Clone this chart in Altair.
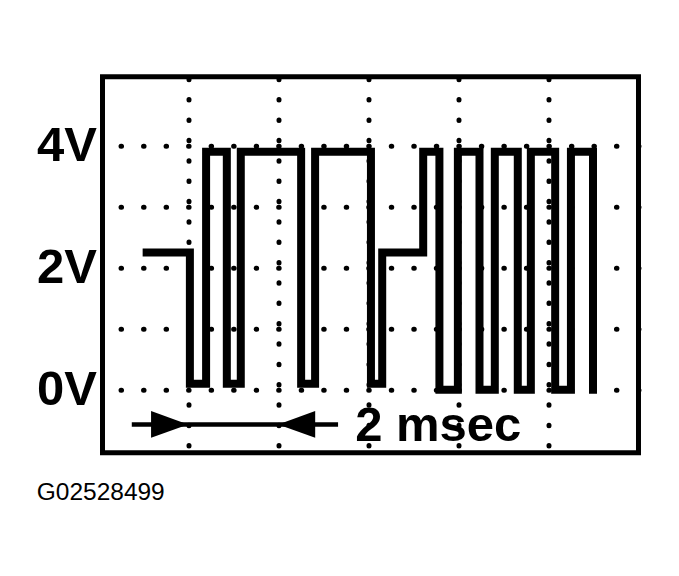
import altair as alt
import pandas as pd

# ---- waveform (time in msec, level in volts) ----
start_t = 1.08
start_level = 2.25
edge_t = [2.04, 2.40, 2.86, 3.17, 4.51, 4.82, 6.06, 6.31,
          7.22, 7.58, 7.99, 8.47, 8.81, 9.32, 9.61, 10.15, 10.50, 10.99]
level_after = [0.1, 3.9, 0.1, 3.9, 0.1, 3.9, 0.1, 2.25,
               3.9, 0.0, 3.9, 0.0, 3.9, 0.0, 3.9, 0.0, 3.9, 0.0]

# ---- axes ----
x_grid = [2, 4, 6, 8, 10]
y_grid = [0, 1, 2, 3, 4]
x_domain = [0.1, 12]
y_domain = [-1.03, 5.13]

# ---- annotations ----
arrow_line_t = [0.75, 5.33]
arrow_v = -0.567
arrow_tip_right = 2.0
arrow_tip_left = 4.0
label_text = "2 msec"
label_t = 5.71
label_v = -0.846
caption_text = "G02528499"
caption_t = -1.36
caption_v = -1.81

rows = [{"i": 0, "t": start_t, "v": start_level}]
prev = start_level
for t, lv in zip(edge_t, level_after):
    rows.append({"i": len(rows), "t": t, "v": prev})
    rows.append({"i": len(rows), "t": t, "v": lv})
    prev = lv
wave = pd.DataFrame(rows)

xs = alt.Scale(domain=x_domain, nice=False, zero=False)
ys = alt.Scale(domain=y_domain, nice=False, zero=False)

x_axis = alt.Axis(values=x_grid, labels=False, ticks=False, domain=False, title=None,
                  grid=True, gridColor="black", gridWidth=5, gridCap="round",
                  gridDash=[0.5, 19.85], gridDashOffset=18.3, gridOpacity=1)
y_axis = alt.Axis(values=y_grid, ticks=False, domain=False, title=None,
                  labelExpr="datum.value % 2 == 0 ? datum.value + 'V' : ''",
                  labelFont="Liberation Sans", labelFontWeight="bold", labelFontSize=49,
                  labelColor="black", labelPadding=6,
                  grid=True, gridColor="black", gridWidth=5, gridCap="round",
                  gridDash=[0.5, 22.02], gridDashOffset=4.5, gridOpacity=1)

trace = alt.Chart(wave).mark_line(color="black", strokeWidth=8, strokeJoin="miter",
                                  strokeCap="square").encode(
    x=alt.X("t:Q", scale=xs, axis=x_axis),
    y=alt.Y("v:Q", scale=ys, axis=y_axis),
    order="i:Q",
)

arrow_df = pd.DataFrame({"t": arrow_line_t, "v": [arrow_v, arrow_v]})
arrow_line = alt.Chart(arrow_df).mark_line(color="black", strokeWidth=4.5).encode(
    x=alt.X("t:Q", scale=xs), y=alt.Y("v:Q", scale=ys))

head_r = alt.Chart(pd.DataFrame({"t": [arrow_tip_right], "v": [arrow_v]})).mark_point(
    shape="M0,0 L-2,-0.72 L-2,0.72 Z", size=1369, filled=True, color="black", opacity=1
).encode(x=alt.X("t:Q", scale=xs), y=alt.Y("v:Q", scale=ys))

head_l = alt.Chart(pd.DataFrame({"t": [arrow_tip_left], "v": [arrow_v]})).mark_point(
    shape="M0,0 L2,-0.72 L2,0.72 Z", size=1369, filled=True, color="black", opacity=1
).encode(x=alt.X("t:Q", scale=xs), y=alt.Y("v:Q", scale=ys))

label = alt.Chart(pd.DataFrame({"t": [label_t], "v": [label_v], "s": [label_text]})).mark_text(
    font="Liberation Sans", fontWeight="bold", fontSize=49, align="left",
    baseline="alphabetic", color="black"
).encode(x=alt.X("t:Q", scale=xs), y=alt.Y("v:Q", scale=ys), text="s:N")

caption = alt.Chart(pd.DataFrame({"t": [caption_t], "v": [caption_v], "s": [caption_text]})).mark_text(
    font="Liberation Sans", fontSize=24.5, align="left", baseline="alphabetic", color="black"
).encode(x=alt.X("t:Q", scale=xs), y=alt.Y("v:Q", scale=ys), text="s:N")

chart = alt.layer(trace, arrow_line, head_r, head_l, label, caption).properties(
    width=536, height=376,
    autosize=alt.AutoSizeParams(type="none"),
    padding={"left": 94.5, "top": 68.7, "right": 30, "bottom": 100},
    background="white",
).configure_view(stroke="black", strokeWidth=5)

chart.save("out.html", embed_options={"renderer": "svg", "actions": False})
